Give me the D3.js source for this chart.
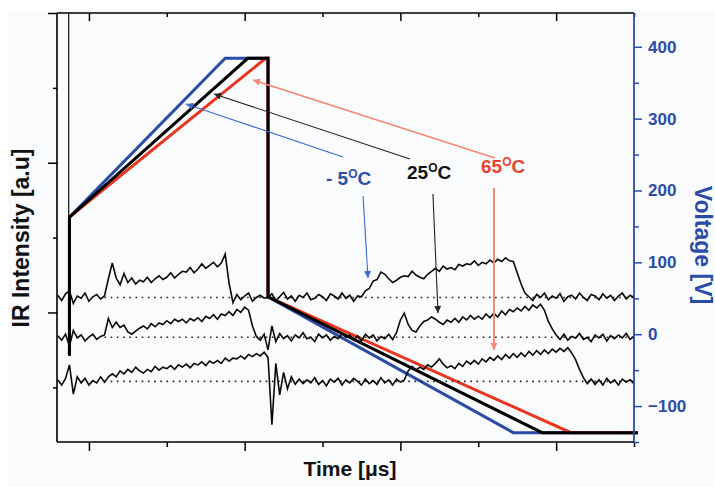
<!DOCTYPE html>
<html>
<head>
<meta charset="utf-8">
<script src="https://cdn.jsdelivr.net/npm/d3@7"></script>
<style>
  html, body { margin: 0; padding: 0; background: #ffffff; }
  svg { display: block; font-family: "Liberation Sans", Arial, Helvetica, sans-serif; font-weight: bold; }
</style>
</head>
<body>
<svg id="chart" width="715" height="487"></svg>
<script>
// ---------------------------------------------------------------
// IR emission traces (a.u.), one sample every 0.05 µs from -0.40 µs
// ---------------------------------------------------------------
const sampleStart = -0.40;
const sampleStep = 0.05;

const irMinus5 = [
  2.3, 1.6, 2.5, 2.9, 1.2, 2.2, 1.9, 2.6, 1.5, 2.1,
  2.4, 1.8, 2.2, 4.5, 6.6, 4.6, 3.7, 5.2, 4.0, 4.6,
  3.8, 4.3, 4.1, 4.7, 4.0, 4.5, 4.9, 4.4, 4.7, 5.3,
  4.6, 5.1, 5.5, 5.4, 6.0, 5.3, 5.8, 6.5, 5.9, 6.3,
  6.7, 6.1, 6.6, 7.8, 3.9, 1.3, 2.4, 1.7, 2.2, 2.6,
  1.5, 2.0, 2.3, 1.9, 2.0, 2.5, 1.6, 2.1, 2.7, 1.8,
  2.2, 1.5, 2.3, 2.0, 2.6, 1.7, 1.9, 2.4, 2.1, 1.6,
  2.5, 2.2, 1.8, 2.6, 1.9, 2.3, 1.5, 2.2, 2.1, 2.9,
  3.2, 4.2, 4.4, 5.4, 5.1, 4.5, 4.0, 4.3, 4.7, 4.9,
  4.8, 5.5, 5.0, 4.7, 4.5, 5.1, 5.5, 5.9, 5.5, 6.2,
  5.8, 6.0, 5.7, 6.4, 6.2, 6.5, 6.4, 6.9, 6.3, 6.7,
  6.5, 7.0, 6.6, 7.1, 6.8, 7.3, 6.9, 6.8, 5.3, 3.8,
  2.6, 2.1, 1.6, 2.4, 2.0, 2.6, 1.7, 2.2, 1.9, 2.5,
  1.5, 2.1, 2.3, 1.8, 2.6, 2.0, 1.6, 2.4, 2.2, 1.7,
  2.5, 1.9, 2.3, 1.6, 2.2, 2.6, 1.8, 2.3, 2.0
];

const ir25 = [
  -3.1, -3.7, -2.9, -4.5, -2.4, -3.4, -3.0, -3.8, -3.3, -2.9,
  -3.6, -3.2, -3.0, -0.8, -2.0, -1.3, -2.0, -1.7, -2.6, -2.9,
  -2.5, -2.1, -1.8, -2.2, -1.5, -1.9, -1.4, -1.6, -1.1, -1.5,
  -0.9, -1.2, -0.9, -1.4, -0.8, -1.1, -0.7, -1.2, -0.5, -0.8,
  -0.3, -0.9, -0.2, -0.4, 0.1, -0.4, 0.4, 0.0, 0.7, 0.3,
  -1.8, -3.2, -3.7, -2.9, -5.0, -1.8, -3.9, -2.8, -3.5, -3.1,
  -3.8, -3.0, -3.4, -2.7, -3.5, -3.3, -3.9, -2.9, -3.4, -3.0,
  -3.7, -3.2, -3.5, -2.8, -3.3, -3.0, -3.7, -3.1, -3.8, -2.9,
  -3.4, -3.0, -3.8, -3.2, -3.5, -2.9, -3.6, -2.7, -1.0, -0.1,
  -1.6, -2.4, -2.6, -1.8, -1.2, -1.0, -0.6, -0.9, -1.3, -1.6,
  -1.0, -1.3, -0.8, -1.3, -0.6, -1.0, -0.4, -0.9, -0.5, -0.9,
  -0.2, -0.7, -0.1, -0.6, 0.2, -0.3, 0.4, 0.1, 0.6, 0.2,
  0.8, 0.3, 1.0, 0.6, 1.1, 0.3, -1.2, -2.2, -3.0, -3.6,
  -2.9, -3.7, -3.2, -3.4, -2.8, -3.6, -3.3, -3.9, -3.0, -3.4,
  -2.9, -3.8, -3.1, -3.5, -3.0, -3.4, -2.8, -3.6, -3.2
];

const ir65 = [
  -9.0, -9.7, -8.8, -7.0, -10.9, -8.6, -9.4, -8.8, -9.7, -9.1,
  -9.4, -8.6, -9.3, -8.6, -8.2, -8.6, -7.8, -8.2, -7.6, -8.0,
  -7.3, -7.8, -8.1, -7.6, -7.9, -7.2, -7.7, -7.3, -7.5, -7.1,
  -7.6, -7.0, -7.3, -6.9, -7.4, -6.8, -7.0, -6.6, -7.1, -6.5,
  -6.8, -6.4, -6.8, -6.1, -6.5, -6.1, -6.2, -5.8, -6.2, -5.6,
  -5.9, -5.5, -5.8, -5.3, -6.0, -15.0, -6.8, -11.0, -8.0, -10.2,
  -8.6, -9.6, -8.9, -9.5, -9.0, -9.4, -8.7, -9.6, -9.1, -9.8,
  -8.9, -9.3, -8.8, -9.7, -9.0, -9.4, -8.8, -9.2, -9.7, -8.9,
  -9.5, -9.1, -9.6, -8.7, -9.4, -9.0, -9.7, -8.9, -9.3, -9.0,
  -7.8, -7.2, -7.7, -7.3, -7.6, -7.0, -7.3, -6.8, -6.2, -6.9,
  -7.4, -7.1, -7.5, -6.8, -7.2, -6.5, -6.9, -6.4, -6.9, -6.2,
  -6.6, -6.0, -6.4, -5.8, -6.3, -5.6, -6.1, -5.5, -6.0, -5.4,
  -5.9, -5.2, -5.7, -5.1, -5.6, -5.0, -5.5, -4.9, -5.3, -4.8,
  -5.2, -4.7, -5.4, -6.3, -7.6, -8.7, -9.5, -8.9, -9.6, -9.0,
  -9.7, -8.8, -9.4, -9.0, -9.7, -8.9, -9.3, -9.0, -9.5
];

// zero-emission level of each IR trace and the span of its dotted guide (µs)
const irBaselines = [2.0, -3.3, -9.2];
const baselineSpan = [0.2, 7.0];

// ---------------------------------------------------------------
// Applied voltage waveforms (µs, V) for each temperature
// ---------------------------------------------------------------
const pulseTimesMinus5 = [-0.25, -0.25, 1.75, 2.30, 2.30, 5.45, 7.05];
const pulseTimes25     = [-0.25, -0.25, 2.04, 2.30, 2.30, 5.82, 7.05];
const pulseTimes65     = [-0.25, -0.25, 2.27, 2.30, 2.30, 6.19, 7.05];
const pulseVolts       = [-30, 163, 384, 384, 52, -137, -137];
// trigger instant (µs), marked by a thin line above the pulse start
const triggerTime = -0.26;

// ---------------------------------------------------------------
// Axis ticks
// ---------------------------------------------------------------
const timeMajor = [0, 2, 4, 6];
const timeMinor = [1, 3, 5, 7];
const irMajor = [0, 20, 40];
const irMinor = [-10, 10, 30];
const voltMajor = [-100, 0, 100, 200, 300, 400];
const voltMinor = [-150, -50, 50, 150, 250, 350];

// ---------------------------------------------------------------
// Temperature call-outs (positions in µs / V)
// ---------------------------------------------------------------
const tempNames = ["- 5", "25", "65"];
const labelAt = [[3.044, 207], [4.085, 216], [5.035, 224]];
const leaderFrom = [[3.263, 246.6], [4.123, 243.8], [5.215, 245.2]];
const leaderTo = [[1.247, 320.4], [1.606, 334.3], [2.107, 353.8]];
const pointerFrom = [[3.520, 192.3], [4.418, 195.1], [5.202, 203.5]];
const pointerTo = [[3.584, 78.2], [4.483, 29.5], [5.202, -22.0]];

// ---------------------------------------------------------------
const BLUE = "#2b4ca6";
const RED = "#e8351f";
const traceColors = [BLUE, "#000000", RED];
const labelColors = ["#2b50aa", "#111111", "#e6452b"];
const leaderColors = ["#3b6ad0", "#222222", "#f28a74"];

const svg = d3.select("#chart");
const W = 715, H = 487;
const plot = { left: 57, right: 634, top: 13, bottom: 442 };

svg.append("rect").attr("x", 0).attr("y", 0).attr("width", W).attr("height", H).attr("fill", "#ffffff");
svg.append("rect").attr("x", 8).attr("y", 10).attr("width", W - 8).attr("height", H - 10).attr("fill", "#fafbfd");

const x = d3.scaleLinear().domain([-0.41, 7]).range([plot.left, plot.right]);
const yIR = d3.scaleLinear().domain([-17.3, 40]).range([plot.bottom, plot.top]);
const yV = d3.scaleLinear().domain([-150, 447]).range([plot.bottom, plot.top]);

svg.append("defs").append("clipPath").attr("id", "plotClip")
  .append("rect").attr("x", plot.left).attr("y", plot.top)
  .attr("width", plot.right - plot.left).attr("height", plot.bottom - plot.top);

// ---------- trigger marker ----------
svg.append("line")
  .attr("x1", x(triggerTime)).attr("x2", x(triggerTime))
  .attr("y1", plot.top).attr("y2", yV(pulseVolts[1]))
  .attr("stroke", "#111").attr("stroke-width", 1.2);

// ---------- voltage waveforms ----------
const voltLine = d3.line().x(d => x(d[0])).y(d => yV(d[1]));
const pulseSets = [pulseTimesMinus5, pulseTimes25, pulseTimes65];
const drawOrder = [0, 2, 1]; // blue, red, then black on top
const gV = svg.append("g");
drawOrder.forEach(k => {
  const pts = pulseSets[k].map((t, i) => [t, pulseVolts[i]]);
  gV.append("path")
    .attr("d", voltLine(pts))
    .attr("fill", "none")
    .attr("stroke", traceColors[k])
    .attr("stroke-width", 3)
    .attr("stroke-linejoin", "miter");
});

// ---------- dotted baselines ----------
const gIR = svg.append("g").attr("clip-path", "url(#plotClip)");
irBaselines.forEach(b => {
  gIR.append("line")
    .attr("x1", x(baselineSpan[0])).attr("x2", x(baselineSpan[1]))
    .attr("y1", yIR(b)).attr("y2", yIR(b))
    .attr("stroke", "#222")
    .attr("stroke-width", 1.6)
    .attr("stroke-dasharray", "1.6,4.6");
});

// ---------- IR traces ----------
const irLine = d3.line()
  .x((d, i) => x(sampleStart + i * sampleStep))
  .y(d => yIR(d));
[irMinus5, ir25, ir65].forEach(series => {
  gIR.append("path")
    .attr("d", irLine(series))
    .attr("fill", "none")
    .attr("stroke", "#0a0a0a")
    .attr("stroke-width", 1.6)
    .attr("stroke-linejoin", "miter");
});

// ---------- axes ----------
function styleAxis(g, color, width) {
  g.selectAll("path.domain").remove();
  g.selectAll(".tick line").attr("stroke", color).attr("stroke-width", width);
}
// bottom
let g = svg.append("g").attr("transform", `translate(0,${plot.bottom})`)
  .call(d3.axisBottom(x).tickValues(timeMajor).tickSize(9).tickFormat(""));
styleAxis(g, "#000", 1.5);
g = svg.append("g").attr("transform", `translate(0,${plot.bottom})`)
  .call(d3.axisBottom(x).tickValues(timeMinor).tickSize(5).tickFormat(""));
styleAxis(g, "#000", 1.5);
// top (ticks inward)
g = svg.append("g").attr("transform", `translate(0,${plot.top})`)
  .call(d3.axisTop(x).tickValues(timeMajor).tickSize(-8).tickFormat(""));
styleAxis(g, "#000", 1.5);
g = svg.append("g").attr("transform", `translate(0,${plot.top})`)
  .call(d3.axisTop(x).tickValues(timeMinor).tickSize(-4).tickFormat(""));
styleAxis(g, "#000", 1.5);
// left
g = svg.append("g").attr("transform", `translate(${plot.left},0)`)
  .call(d3.axisLeft(yIR).tickValues(irMajor).tickSize(9).tickFormat(""));
styleAxis(g, "#000", 1.5);
g = svg.append("g").attr("transform", `translate(${plot.left},0)`)
  .call(d3.axisLeft(yIR).tickValues(irMinor).tickSize(4).tickFormat(""));
styleAxis(g, "#000", 1.5);
// right (voltage)
g = svg.append("g").attr("transform", `translate(${plot.right},0)`)
  .call(d3.axisRight(yV).tickValues(voltMajor).tickSize(8).tickPadding(6).tickFormat(d3.format("d")));
styleAxis(g, BLUE, 1.5);
g.selectAll(".tick text")
  .attr("fill", BLUE)
  .style("font-size", "17px")
  .style("font-weight", "bold")
  .style("font-family", '"Liberation Sans", Arial, sans-serif');
g = svg.append("g").attr("transform", `translate(${plot.right},0)`)
  .call(d3.axisRight(yV).tickValues(voltMinor).tickSize(5).tickFormat(""));
styleAxis(g, BLUE, 1.5);

// frame lines
svg.append("line").attr("x1", plot.left).attr("x2", plot.right).attr("y1", plot.top).attr("y2", plot.top)
  .attr("stroke", "#000").attr("stroke-width", 1.6);
svg.append("line").attr("x1", plot.left).attr("x2", plot.right).attr("y1", plot.bottom).attr("y2", plot.bottom)
  .attr("stroke", "#000").attr("stroke-width", 1.6);
svg.append("line").attr("x1", plot.left).attr("x2", plot.left).attr("y1", plot.top).attr("y2", plot.bottom)
  .attr("stroke", "#000").attr("stroke-width", 1.6);
svg.append("line").attr("x1", plot.right).attr("x2", plot.right).attr("y1", plot.top).attr("y2", plot.bottom)
  .attr("stroke", BLUE).attr("stroke-width", 1.8);

// ---------- axis titles ----------
svg.append("text")
  .attr("transform", "translate(29,238) rotate(-90)")
  .attr("text-anchor", "middle")
  .style("font-size", "23px")
  .attr("fill", "#111")
  .text("IR Intensity [a.u]");
svg.append("text")
  .attr("transform", "translate(695,245) rotate(90)")
  .attr("text-anchor", "middle")
  .style("font-size", "23px")
  .attr("fill", BLUE)
  .text("Voltage [V]");
svg.append("text")
  .attr("x", 350).attr("y", 476)
  .attr("text-anchor", "middle")
  .style("font-size", "21px")
  .attr("fill", "#111")
  .text("Time [\u03bcs]");

// ---------- call-outs ----------
const defs = svg.select("defs");
leaderColors.forEach((c, k) => {
  defs.append("marker")
    .attr("id", "head" + k)
    .attr("viewBox", "0 0 10 10")
    .attr("refX", 10).attr("refY", 5)
    .attr("markerUnits", "userSpaceOnUse")
    .attr("markerWidth", 9).attr("markerHeight", 7)
    .attr("orient", "auto")
    .append("path").attr("d", "M0,0 L10,5 L0,10 Z").attr("fill", c);
});
const gA = svg.append("g");
tempNames.forEach((name, k) => {
  const w = k === 2 ? 1.6 : 1.1;
  gA.append("line")
    .attr("x1", x(leaderFrom[k][0])).attr("y1", yV(leaderFrom[k][1]))
    .attr("x2", x(leaderTo[k][0])).attr("y2", yV(leaderTo[k][1]))
    .attr("stroke", leaderColors[k]).attr("stroke-width", w)
    .attr("marker-end", `url(#head${k})`);
  gA.append("line")
    .attr("x1", x(pointerFrom[k][0])).attr("y1", yV(pointerFrom[k][1]))
    .attr("x2", x(pointerTo[k][0])).attr("y2", yV(pointerTo[k][1]))
    .attr("stroke", leaderColors[k]).attr("stroke-width", k === 2 ? 2 : 1.1)
    .attr("marker-end", `url(#head${k})`);
  const t = gA.append("text")
    .attr("x", x(labelAt[k][0])).attr("y", yV(labelAt[k][1]))
    .attr("fill", labelColors[k])
    .style("font-size", "19px");
  t.append("tspan").text(name);
  t.append("tspan").attr("dy", -7).style("font-size", "12px").text("O");
  t.append("tspan").attr("dy", 7).text("C");
});
</script>
</body>
</html>
